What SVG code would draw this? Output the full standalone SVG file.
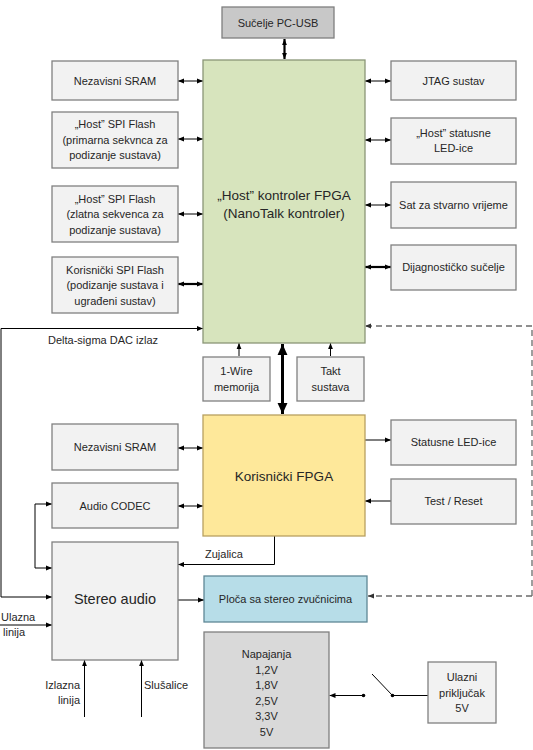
<svg xmlns="http://www.w3.org/2000/svg" width="533" height="750" viewBox="0 0 533 750">
<style>
text{font-family:"Liberation Sans",Arial,sans-serif;fill:#262626;font-size:11px;text-anchor:middle}
.box{fill:#f2f2f2;stroke:#808080;stroke-width:1.3}
.host{fill:#d7e4bd;stroke:#8a9677;stroke-width:1.3}
.user{fill:#fee89a;stroke:#b8a060;stroke-width:1.3}
.blue{fill:#b7dde8;stroke:#5f8796;stroke-width:1.3}
.grey{fill:#d9d9d9;stroke:#7f7f7f;stroke-width:1.3}
.pc{fill:#c8c8c8;stroke:#7f7f7f;stroke-width:1.3}
.big{font-size:13.5px}
.ln{fill:none;stroke:#000;stroke-width:1}
.th{fill:none;stroke:#000;stroke-width:2.6}
.ds{fill:none;stroke:#6b6b6b;stroke-width:1.3;stroke-dasharray:6,4}
.lbl{text-anchor:start}
</style>
<defs>
<marker id="a" viewBox="0 0 10 10" refX="10" refY="5" markerWidth="6" markerHeight="6" markerUnits="userSpaceOnUse" orient="auto-start-reverse"><path d="M0,1 L10,5 L0,9 z" fill="#000"/></marker>
<marker id="at" viewBox="0 0 10 10" refX="10" refY="5" markerWidth="11" markerHeight="11" markerUnits="userSpaceOnUse" orient="auto-start-reverse"><path d="M0,0.5 L10,5 L0,9.5 z" fill="#000"/></marker>
<marker id="ag" viewBox="0 0 10 10" refX="10" refY="5" markerWidth="6" markerHeight="6" markerUnits="userSpaceOnUse" orient="auto-start-reverse"><path d="M0,1 L10,5 L0,9 z" fill="#333"/></marker>
</defs>

<g id="connectors">
<line class="th" x1="284.5" y1="39" x2="284.5" y2="59" marker-start="url(#a)" marker-end="url(#a)" style="stroke-width:2.2"/>
<line class="ln" x1="178" y1="81" x2="203" y2="81" marker-start="url(#a)" marker-end="url(#a)"/>
<line class="ln" x1="365" y1="81" x2="391" y2="81" marker-start="url(#a)" marker-end="url(#a)"/>
<line class="ln" x1="178" y1="139" x2="203" y2="139" marker-start="url(#a)" marker-end="url(#a)"/>
<line class="ln" x1="365" y1="140" x2="391" y2="140" marker-start="url(#a)" marker-end="url(#a)"/>
<line class="ln" x1="178" y1="214" x2="203" y2="214" marker-start="url(#a)" marker-end="url(#a)"/>
<line class="ln" x1="365" y1="205" x2="391" y2="205" marker-start="url(#a)" marker-end="url(#a)"/>
<line class="th" x1="178" y1="284" x2="203" y2="284" marker-start="url(#a)" marker-end="url(#a)" style="stroke-width:2.2"/>
<line class="th" x1="365" y1="267" x2="391" y2="267" marker-start="url(#a)" marker-end="url(#a)" style="stroke-width:2.2"/>
<polyline class="ln" points="1,597 1,328.5 203,328.5" marker-end="url(#a)"/>
<line class="ln" x1="1" y1="597" x2="52" y2="597" marker-end="url(#a)"/>
<polyline class="ds" points="532,596 532,326 365,326" marker-end="url(#ag)"/>
<line class="ds" x1="532" y1="596" x2="368" y2="596" marker-end="url(#ag)"/>
<line class="ln" x1="239" y1="356" x2="239" y2="343" marker-end="url(#a)"/>
<line class="ln" x1="330.5" y1="356" x2="330.5" y2="343" marker-end="url(#a)"/>
<line class="th" x1="282.5" y1="344" x2="282.5" y2="414" marker-start="url(#at)" marker-end="url(#at)" style="stroke-width:3"/>
<line class="ln" x1="178" y1="448" x2="203" y2="448" marker-start="url(#a)" marker-end="url(#a)"/>
<line class="ln" x1="178" y1="506" x2="203" y2="506" marker-start="url(#a)" marker-end="url(#a)"/>
<line class="ln" x1="365" y1="440" x2="391" y2="440" marker-end="url(#a)"/>
<line class="ln" x1="391" y1="501" x2="365" y2="501" marker-end="url(#a)"/>
<polyline class="ln" points="274.5,536 274.5,564.5 178,564.5" marker-end="url(#a)"/>
<polyline class="ln" points="52,504 35,504 35,568 52,568" marker-start="url(#a)" marker-end="url(#a)"/>
<line class="ln" x1="0" y1="625" x2="52" y2="625" marker-end="url(#a)"/>
<line class="ln" x1="178" y1="600" x2="204" y2="600" marker-end="url(#a)"/>
<line class="ln" x1="84.5" y1="717" x2="84.5" y2="660" marker-end="url(#a)"/>
<line class="ln" x1="141.5" y1="717" x2="141.5" y2="660" marker-end="url(#a)"/>
<line class="ln" x1="363.5" y1="695.5" x2="329.5" y2="695.5" marker-end="url(#a)"/>
<circle cx="363.5" cy="695.5" r="1.8" fill="#000"/>
<line class="ln" x1="372" y1="674" x2="392.5" y2="695.5"/>
<circle cx="392.5" cy="695.5" r="1.8" fill="#000"/>
<line class="ln" x1="392.5" y1="695.5" x2="428" y2="695.5"/>
<text class="lbl" x="48" y="344">Delta-sigma DAC izlaz</text>
<text class="lbl" x="205" y="558">Zujalica</text>
<text class="lbl" x="1" y="621">Ulazna</text>
<text class="lbl" x="3" y="636">linija</text>
<text style="text-anchor:end" x="80" y="689">Izlazna</text>
<text style="text-anchor:end" x="80" y="704">linija</text>
<text class="lbl" x="144" y="689">Slušalice</text>
</g>

<g id="pcusb"><rect class="pc" x="222" y="7" width="112" height="31"/><text x="278" y="26.5">Sučelje PC-USB</text></g>
<g id="host"><rect class="host" x="203" y="60" width="162" height="283"/><text class="big" x="284" y="200">„Host” kontroler FPGA</text><text class="big" x="284" y="218">(NanoTalk kontroler)</text></g>
<g id="sram1"><rect class="box" x="52" y="61" width="126" height="39"/><text x="115" y="85">Nezavisni SRAM</text></g>
<g id="spi1"><rect class="box" x="52" y="112" width="126" height="56"/><text x="115" y="128">„Host” SPI Flash</text><text x="115" y="143.5">(primarna sekvnca za</text><text x="115" y="159">podizanje sustava)</text></g>
<g id="spi2"><rect class="box" x="52" y="186" width="126" height="56"/><text x="115" y="202.5">„Host” SPI Flash</text><text x="115" y="218">(zlatna sekvenca za</text><text x="115" y="233.5">podizanje sustava)</text></g>
<g id="spi3"><rect class="box" x="52" y="257" width="126" height="56"/><text x="115" y="273.5">Korisnički SPI Flash</text><text x="115" y="289">(podizanje sustava i</text><text x="115" y="304.5">ugrađeni sustav)</text></g>
<g id="jtag"><rect class="box" x="391" y="61" width="125" height="39"/><text x="453.5" y="85">JTAG sustav</text></g>
<g id="hled"><rect class="box" x="391" y="118" width="125" height="46"/><text x="453.5" y="137">„Host” statusne</text><text x="453.5" y="152">LED-ice</text></g>
<g id="rtc"><rect class="box" x="391" y="182" width="125" height="46"/><text x="453.5" y="209">Sat za stvarno vrijeme</text></g>
<g id="diag"><rect class="box" x="391" y="245" width="125" height="45"/><text x="453.5" y="271">Dijagnostičko sučelje</text></g>
<g id="onewire"><rect class="box" x="203" y="357" width="67" height="44"/><text x="236.5" y="375">1-Wire</text><text x="236.5" y="391">memorija</text></g>
<g id="takt"><rect class="box" x="297" y="357" width="67" height="44"/><text x="330.5" y="375">Takt</text><text x="330.5" y="391">sustava</text></g>
<g id="userfpga"><rect class="user" x="203" y="415" width="162" height="121"/><text class="big" x="284" y="481">Korisnički FPGA</text></g>
<g id="sram2"><rect class="box" x="52" y="424" width="126" height="46"/><text x="115" y="451">Nezavisni SRAM</text></g>
<g id="codec"><rect class="box" x="52" y="483" width="126" height="45"/><text x="115" y="509.5">Audio CODEC</text></g>
<g id="sled"><rect class="box" x="391" y="420" width="125" height="45"/><text x="453.5" y="446">Statusne LED-ice</text></g>
<g id="test"><rect class="box" x="391" y="479" width="125" height="45"/><text x="453.5" y="505">Test / Reset</text></g>
<g id="stereo"><rect class="box" x="52" y="542" width="126" height="118"/><text style="font-size:14.5px" x="115" y="604">Stereo audio</text></g>
<g id="ploca"><rect class="blue" x="204" y="576" width="163" height="46"/><text x="285.5" y="603">Ploča sa stereo zvučnicima</text></g>
<g id="napajanja"><rect class="grey" x="204" y="632" width="125" height="116"/><text x="266.5" y="658">Napajanja</text><text x="266.5" y="673.5">1,2V</text><text x="266.5" y="689">1,8V</text><text x="266.5" y="704.5">2,5V</text><text x="266.5" y="720">3,3V</text><text x="266.5" y="735.5">5V</text></g>
<g id="ulazni"><rect class="box" x="428" y="662" width="68" height="61"/><text x="462" y="681">Ulazni</text><text x="462" y="696.5">priključak</text><text x="462" y="712">5V</text></g>
</svg>
